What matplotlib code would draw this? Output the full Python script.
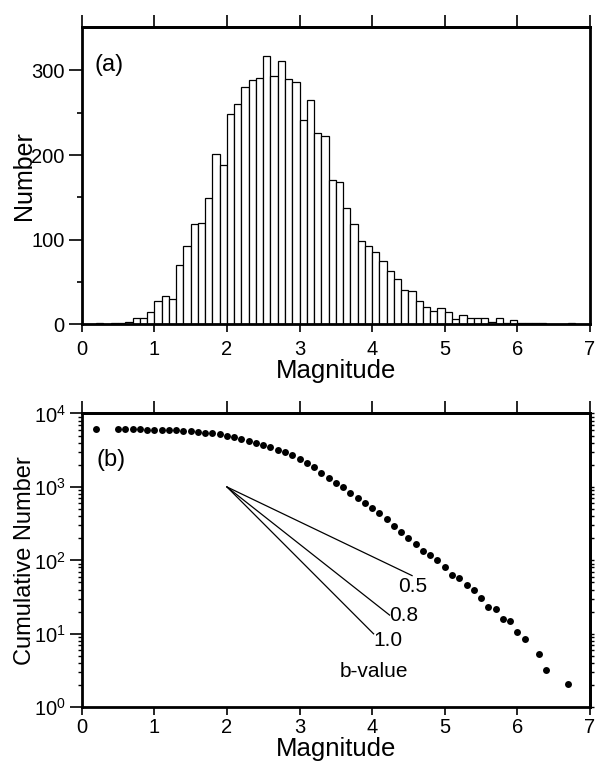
import numpy as np
import matplotlib
matplotlib.use("Agg")
import matplotlib.pyplot as plt
from matplotlib.ticker import NullFormatter

plt.rcParams['font.family'] = ['Liberation Sans', 'DejaVu Sans']
plt.rcParams['mathtext.fontset'] = 'custom'
plt.rcParams['mathtext.rm'] = 'Liberation Sans'
plt.rcParams['mathtext.it'] = 'Liberation Sans'

# ---- (a) histograma: conteo por intervalo de 0.1 de magnitud ----
bin_start = np.round(np.arange(0.0, 7.0, 0.1), 1)
conteo = [0, 0, 1, 0, 1, 2, 3, 7, 8, 14,
          27, 34, 30, 70, 92, 119, 120, 149, 201, 188,
          248, 260, 280, 289, 291, 317, 293, 311, 290, 286,
          242, 265, 226, 223, 171, 168, 137, 119, 99, 92,
          86, 75, 63, 54, 41, 39, 28, 21, 16, 19,
          15, 6, 11, 7, 8, 8, 3, 7, 2, 5,
          2, 2, 1, 1, 0, 0, 0, 1, 0, 0]

# ---- (b) numero acumulado ----
mag_acum = [0.2, 0.5, 0.6, 0.7, 0.8, 0.9, 1.0, 1.1, 1.2, 1.3, 1.4,
            1.5, 1.6, 1.7, 1.8, 1.9, 2.0, 2.1, 2.2, 2.3, 2.4,
            2.5, 2.6, 2.7, 2.8, 2.9, 3.0, 3.1, 3.2, 3.3, 3.4,
            3.5, 3.6, 3.7, 3.8, 3.9, 4.0, 4.1, 4.2, 4.3, 4.4,
            4.5, 4.6, 4.7, 4.8, 4.9, 5.0, 5.1, 5.2, 5.3, 5.4,
            5.5, 5.6, 5.7, 5.8, 5.9, 6.0, 6.1, 6.3, 6.4, 6.7]
num_acum = [6085, 6085, 6085, 6085, 6085, 6030, 6030, 5960, 5960, 5900, 5840,
            5720, 5590, 5480, 5370, 5200, 4990, 4790, 4540, 4260, 4010,
            3770, 3500, 3220, 2960, 2700, 2380, 2095, 1840, 1528, 1312,
            1143, 991, 836, 714, 611, 522, 437, 369, 297, 247,
            204, 166, 136, 117, 100, 80, 64, 58, 46, 40,
            31, 23, 22, 16, 15, 10.5, 8.4, 5.3, 3.2, 2.1]

# lineas de referencia del b-value
b_labels = ['0.5', '0.8', '1.0']
b_inicio = (2.0, 1000)
b_fin_mag = [4.55, 4.24, 4.02]
b_fin_num = [62, 18, 10]
b_texto_mag = [4.36, 4.24, 4.02]
b_texto_num = [44, 17.5, 8.0]

fig = plt.figure(figsize=(5.98, 7.62), dpi=100)

# ================= panel (a) =================
ax1 = fig.add_axes([0.1366, 0.5744, 0.850, 0.3898])
ax1.bar(bin_start, conteo, width=0.1, align='edge', color='white',
        edgecolor='black', linewidth=0.9)
ax1.set_xlim(0, 7)
ax1.set_ylim(0, 351)
ax1.set_xticks(range(0, 8))
ax1.set_yticks([0, 100, 200, 300])
ax1.set_yticks([50, 150, 250], minor=True)
ax1.tick_params(axis='x', which='major', direction='out', length=5.8, width=1.2,
                labelsize=14.5, pad=5.5)
ax1.tick_params(axis='y', which='major', direction='out', length=9.4, width=1.2,
                labelsize=14.5, pad=3)
ax1.tick_params(axis='y', which='minor', direction='out', length=3.6, width=1.2)
for s in ax1.spines.values():
    s.set_linewidth(2)
sec1 = ax1.secondary_xaxis('top')
sec1.set_xticks(range(0, 8))
sec1.xaxis.set_major_formatter(NullFormatter())
sec1.tick_params(direction='out', length=8.6, width=1.2)
sec1.spines['top'].set_linewidth(2)
ax1.set_xlabel('Magnitude', fontsize=18.5, labelpad=0)
ax1.set_ylabel('Number', fontsize=18)
ax1.yaxis.set_label_coords(-0.09, 0.5)
ax1.text(0.18, 306, '(a)', fontsize=17, va='center', ha='left')

# ================= panel (b) =================
ax2 = fig.add_axes([0.1366, 0.0718, 0.850, 0.3856])
ax2.set_yscale('log')
ax2.plot(mag_acum, num_acum, 'o', color='black', markersize=5, markeredgewidth=0)
for lab, xm, yn, xt, yt in zip(b_labels, b_fin_mag, b_fin_num, b_texto_mag, b_texto_num):
    ax2.plot([b_inicio[0], xm], [b_inicio[1], yn], color='black', linewidth=0.9)
    ax2.text(xt, yt, lab, fontsize=15, ha='left', va='center')
ax2.text(4.02, 3.1, 'b-value', fontsize=15, ha='center', va='center')
ax2.text(0.2, 2330, '(b)', fontsize=17, va='center', ha='left')
ax2.set_xlim(0, 7)
ax2.set_ylim(1, 1e4)
ax2.set_xticks(range(0, 8))
ax2.tick_params(axis='x', which='major', direction='out', length=5.8, width=1.2,
                labelsize=14.5, pad=2)
ax2.tick_params(axis='y', which='major', direction='out', length=9.0, width=1.2,
                labelsize=14.5, pad=2.5)
ax2.tick_params(axis='y', which='minor', direction='out', length=3.2, width=1.0)
for s in ax2.spines.values():
    s.set_linewidth(2)
sec2 = ax2.secondary_xaxis('top')
sec2.set_xticks(range(0, 8))
sec2.xaxis.set_major_formatter(NullFormatter())
sec2.tick_params(direction='out', length=8.6, width=1.2)
sec2.spines['top'].set_linewidth(2)
sec3 = ax2.secondary_yaxis('right')
sec3.yaxis.set_major_formatter(NullFormatter())
sec3.yaxis.set_minor_formatter(NullFormatter())
sec3.tick_params(which='both', direction='out', length=3.2, width=1.0)
sec3.spines['right'].set_linewidth(2)
ax2.set_xlabel('Magnitude', fontsize=18.5, labelpad=0)
ax2.set_ylabel('Cumulative Number', fontsize=17)
ax2.yaxis.set_label_coords(-0.09, 0.5)

fig.savefig('out.png', dpi=100)
